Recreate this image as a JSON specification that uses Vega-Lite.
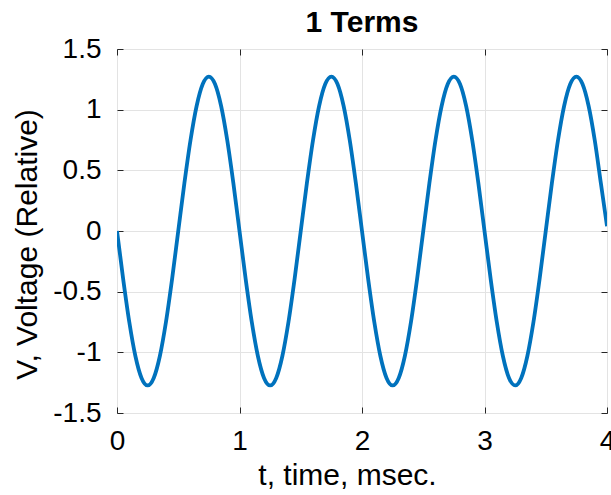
{
  "$schema": "https://vega.github.io/schema/vega-lite/v6.json",
  "width": 490,
  "height": 364,
  "autosize": {"type": "none"},
  "padding": {"left": 117, "top": 49, "right": 4, "bottom": 82},
  "background": "white",
  "title": {"text": "1 Terms", "font": "Liberation Sans", "fontSize": 30, "fontWeight": "bold", "color": "black", "offset": -3},
  "config": {
    "view": {"stroke": "#262626", "strokeWidth": 1},
    "axis": {"labelFont": "Liberation Sans", "titleFont": "Liberation Sans", "labelFontSize": 28, "titleFontSize": 30, "titleFontWeight": "normal", "labelColor": "black", "titleColor": "black", "gridColor": "#e3e3e3", "gridWidth": 1, "domain": false, "tickColor": "#262626", "tickSize": -6, "labelFlush": false}
  },
  "data": {"values": [
    {"t": 0, "v": 0}, {"t": 0.05, "v": -0.393}, {"t": 0.1, "v": -0.748}, {"t": 0.15, "v": -1.03}, {"t": 0.2, "v": -1.211}, {"t": 0.25, "v": -1.273}, {"t": 0.3, "v": -1.211}, {"t": 0.35, "v": -1.03}, {"t": 0.4, "v": -0.748}, {"t": 0.45, "v": -0.393},
    {"t": 0.5, "v": 0}, {"t": 0.55, "v": 0.393}, {"t": 0.6, "v": 0.748}, {"t": 0.65, "v": 1.03}, {"t": 0.7, "v": 1.211}, {"t": 0.75, "v": 1.273}, {"t": 0.8, "v": 1.211}, {"t": 0.85, "v": 1.03}, {"t": 0.9, "v": 0.748}, {"t": 0.95, "v": 0.393},
    {"t": 1, "v": 0}, {"t": 1.05, "v": -0.393}, {"t": 1.1, "v": -0.748}, {"t": 1.15, "v": -1.03}, {"t": 1.2, "v": -1.211}, {"t": 1.25, "v": -1.273}, {"t": 1.3, "v": -1.211}, {"t": 1.35, "v": -1.03}, {"t": 1.4, "v": -0.748}, {"t": 1.45, "v": -0.393},
    {"t": 1.5, "v": 0}, {"t": 1.55, "v": 0.393}, {"t": 1.6, "v": 0.748}, {"t": 1.65, "v": 1.03}, {"t": 1.7, "v": 1.211}, {"t": 1.75, "v": 1.273}, {"t": 1.8, "v": 1.211}, {"t": 1.85, "v": 1.03}, {"t": 1.9, "v": 0.748}, {"t": 1.95, "v": 0.393},
    {"t": 2, "v": 0}, {"t": 2.05, "v": -0.393}, {"t": 2.1, "v": -0.748}, {"t": 2.15, "v": -1.03}, {"t": 2.2, "v": -1.211}, {"t": 2.25, "v": -1.273}, {"t": 2.3, "v": -1.211}, {"t": 2.35, "v": -1.03}, {"t": 2.4, "v": -0.748}, {"t": 2.45, "v": -0.393},
    {"t": 2.5, "v": 0}, {"t": 2.55, "v": 0.393}, {"t": 2.6, "v": 0.748}, {"t": 2.65, "v": 1.03}, {"t": 2.7, "v": 1.211}, {"t": 2.75, "v": 1.273}, {"t": 2.8, "v": 1.211}, {"t": 2.85, "v": 1.03}, {"t": 2.9, "v": 0.748}, {"t": 2.95, "v": 0.393},
    {"t": 3, "v": 0}, {"t": 3.05, "v": -0.393}, {"t": 3.1, "v": -0.748}, {"t": 3.15, "v": -1.03}, {"t": 3.2, "v": -1.211}, {"t": 3.25, "v": -1.273}, {"t": 3.3, "v": -1.211}, {"t": 3.35, "v": -1.03}, {"t": 3.4, "v": -0.748}, {"t": 3.45, "v": -0.393},
    {"t": 3.5, "v": 0}, {"t": 3.55, "v": 0.393}, {"t": 3.6, "v": 0.748}, {"t": 3.65, "v": 1.03}, {"t": 3.7, "v": 1.211}, {"t": 3.75, "v": 1.273}, {"t": 3.8, "v": 1.211}, {"t": 3.85, "v": 1.03}, {"t": 3.9, "v": 0.748}, {"t": 3.95, "v": 0.393},
    {"t": 4, "v": 0.04}
  ]},
  "layer": [
    {
      "mark": {"type": "line", "color": "#0072BD", "strokeWidth": 3.8, "interpolate": "monotone", "clip": true},
      "encoding": {
        "x": {"field": "t", "type": "quantitative", "scale": {"domain": [0, 4], "nice": false}, "axis": {"title": "t, time, msec.", "values": [0, 1, 2, 3, 4], "labelPadding": 20, "titlePadding": 5, "titleX": 230, "grid": true}},
        "y": {"field": "v", "type": "quantitative", "scale": {"domain": [-1.5, 1.5], "nice": false}, "axis": {"title": "V, Voltage (Relative)", "values": [-1.5, -1, -0.5, 0, 0.5, 1, 1.5], "labelExpr": "'' + datum.value", "labelPadding": 22, "titlePadding": 10, "titleY": 195, "grid": true}}
      }
    },
    {
      "mark": {"type": "line", "strokeOpacity": 0},
      "encoding": {
        "x": {"field": "t", "type": "quantitative", "scale": {"domain": [0, 4], "nice": false}, "axis": {"orient": "top", "title": null, "labels": false, "values": [0, 1, 2, 3, 4], "grid": false}},
        "y": {"field": "v", "type": "quantitative", "scale": {"domain": [-1.5, 1.5], "nice": false}, "axis": {"orient": "right", "title": null, "labels": false, "values": [-1.5, -1, -0.5, 0, 0.5, 1, 1.5], "grid": false}}
      }
    }
  ],
  "resolve": {"axis": {"x": "independent", "y": "independent"}}
}
